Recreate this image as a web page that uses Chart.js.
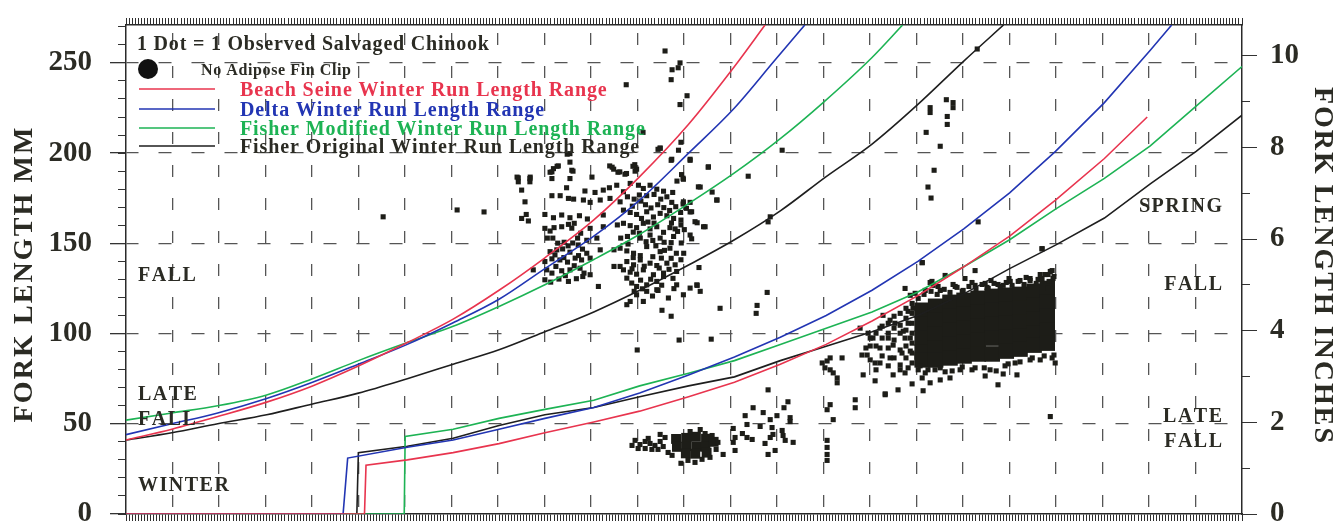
<!DOCTYPE html>
<html>
<head>
<meta charset="utf-8">
<title>Salvaged Chinook fork length</title>
<script src="https://cdn.jsdelivr.net/npm/chart.js@4.4.1/dist/chart.umd.min.js"></script>
<style>
  html, body { margin: 0; padding: 0; background: #fff; }
  canvas { display: block; }
</style>
</head>
<body>
<canvas id="lengthChart" width="1338" height="525"></canvas>
<script>
// x = day of the season (0..365), y = fork length in mm

const yTopMm = 271;
const mmPerInch = 25.4;

const curveNames = [
  "Beach Seine Winter Run Length Range",
  "Delta Winter Run Length Range",
  "Fisher Modified Winter Run Length Range",
  "Fisher Original Winter Run Length Range",
];
const curveColors = ["#e8344e", "#2235b3", "#1db354", "#1e1e1e"];

// upper limits of the winter run band
const beachUpperDays = [0, 15, 30, 46, 61, 76, 92, 107, 122, 137, 153, 168, 184, 199, 209];
const beachUpperMm = [41, 47, 54, 62, 71, 82, 95, 108, 124, 142, 163, 187, 216, 248, 271];
const deltaUpperDays = [0, 15, 30, 46, 61, 76, 92, 107, 122, 137, 153, 168, 184, 199, 212, 222];
const deltaUpperMm = [44, 50, 56, 64, 73, 83, 94, 106, 119, 136, 154, 174, 200, 225, 251, 271];
const modUpperDays = [0, 15, 30, 46, 61, 76, 92, 107, 122, 137, 153, 168, 184, 199, 214, 228, 244, 254];
const modUpperMm = [52, 56, 60, 66, 75, 85, 95, 104, 115, 127, 141, 155, 172, 189, 208, 228, 253, 271];
const origUpperDays = [0, 15, 30, 46, 61, 76, 92, 107, 122, 137, 153, 168, 184, 199, 214, 229, 244, 259, 274, 287];
const origUpperMm = [41, 45, 50, 55, 61, 67, 75, 83, 91, 101, 112, 124, 138, 152, 168, 187, 205, 227, 251, 271];

// lower limits (zero until the run starts)
const beachLowerDays = [0, 78, 78.5, 92, 107, 122, 137, 153, 168, 184, 199, 214, 229, 244, 259, 274, 289, 304, 320, 334];
const beachLowerMm = [0, 0, 27, 30, 34, 39, 45, 51, 57, 65, 73, 83, 94, 107, 121, 137, 154, 174, 197, 220];
const deltaLowerDays = [0, 71, 72.5, 92, 107, 122, 137, 153, 168, 184, 199, 214, 229, 244, 259, 274, 289, 304, 320, 335, 342];
const deltaLowerMm = [0, 0, 31, 37, 41, 47, 53, 59, 67, 77, 87, 98, 110, 124, 140, 158, 178, 201, 228, 257, 271];
const modLowerDays = [0, 91, 91.3, 107, 122, 137, 153, 168, 184, 199, 214, 229, 244, 259, 274, 289, 304, 320, 335, 350, 365];
const modLowerMm = [0, 0, 43, 47, 53, 58, 63, 71, 78, 85, 94, 103, 112, 123, 137, 152, 169, 186, 204, 226, 248];
const origLowerDays = [0, 75.5, 76, 92, 107, 122, 137, 153, 168, 184, 199, 214, 229, 244, 259, 274, 289, 304, 320, 335, 350, 365];
const origLowerMm = [0, 0, 34, 37.5, 42, 49, 55, 59, 65, 71, 76, 85, 93, 101, 110, 122, 136, 149, 164, 183, 201, 221];

// observed salvaged fish [day, mm]
const upperGroup = [
  [145.2,199.7],[174.7,202.8],[180.7,201.6],[184.5,196.6],[178.5,196.6],[190.5,192.4],[139.8,191.4],[141.4,192.9],
  [139.3,189.6],[145.8,190.5],[145.2,185.9],[139.3,185.9],[128.3,186.3],[128.3,184.1],[132.1,185.9],[132.1,184.1],
  [158.2,192.9],[159.5,191.1],[161.5,189.6],[163.7,188.7],[166.4,193.6],[167,191.1],[181.7,188.1],[182.3,185.5],
  [187.2,181.3],[129.4,179.5],[144.1,180.8],[150.1,179],[153.4,178.2],[156.1,179.5],[158.1,180.8],[160.5,182.2],
  [162.7,178.6],[164.9,183.2],[167.6,182.2],[169.2,180.4],[171.4,182.2],[173.6,180],[175.8,178.9],[178.8,178.2],
  [130.5,173],[139.3,176.4],[142,176.4],[144.7,174.9],[146.4,174.5],[149.6,174],[151.8,172.7],[155.1,174],
  [158.3,174.9],[161.6,173],[164,175.8],[166.2,174.5],[168.4,173.4],[170.3,176.4],[172.7,177.1],[174.9,174.5],
  [176.9,175.8],[178.5,172.7],[182.3,173],[184.5,172.7],[193.2,174],[129.4,163.8],[130.9,166],[131.6,162.4],
  [137,166],[139.8,164.2],[142.5,165.7],[145.2,164.2],[148.3,165.3],[150.9,163.5],[156.1,165.7],[162.7,168.4],
  [164.9,167.1],[167,166],[170.3,167.5],[172.5,164.6],[174.7,166.6],[176.9,165.3],[179.1,163.8],[181.5,162.9],
  [185,167.5],[186.1,162],[188.9,159.2],[137,158.3],[138.7,156.8],[140,158.7],[142.5,159.2],[144.7,160.5],
  [146.6,161.1],[148.7,155.6],[151.8,158.3],[156.1,159.2],[160.7,160.2],[162.7,161.1],[164.9,159.8],[167,158.7],
  [169.2,161.1],[171.4,158],[173.6,159.2],[175.8,156.1],[177.9,158.7],[179.6,158],[181.5,160.2],[137.8,152.9],
  [139.6,152.9],[143.3,150.6],[147.7,152.9],[150.7,151.7],[154,152.9],[161.8,152.9],[164,153.8],[168.2,152.9],
  [171.4,154.6],[174.7,152.9],[176,150.6],[179.1,153.8],[184.5,154.6],[185,152.5],[138.7,145.4],[140.9,146.4],
  [145.2,145.1],[148,143.2],[150.7,144.5],[155.1,146.4],[159.6,146.4],[161.6,147.3],[163.8,145.8],[166,144.5],
  [168.2,143.2],[170.3,148.2],[174.7,145.4],[177.9,147.3],[180,144.5],[182.4,144.5],[137,139.9],[139.3,141.4],
  [141.9,140.8],[144.4,139.6],[146.9,141.8],[149,140.8],[151.8,141.8],[159.6,137.2],[161.6,137.2],[163.8,139.9],
  [166,138.1],[168.2,140.8],[171.4,139],[173.6,137.7],[176.9,139],[179.6,138.1],[133.2,135.3],[137.6,135.3],
  [139.3,133.5],[142.5,134.8],[145.2,135.3],[148.5,136.2],[149.8,133.5],[151.8,132.6],[162.7,135.3],[164.9,134],
  [167,132.9],[169.2,135.3],[172.5,132.6],[175.8,133.5],[180.1,134.4],[137,129.8],[138.9,128.5],[144.7,128.9],
  [149.4,131.6],[154.5,126.1],[163.8,130.7],[165.4,128],[167,126.1],[170.3,127],[173.6,128.9],[175.8,131.6],
  [180.1,127],[186.7,127],[167,121.5],[164.9,117.8],[170.3,123.4],[173.6,124.3],[177.4,119.7],[182.3,121.5],
  [187.8,123.4],[184.5,125.2],[163.8,116],[169.2,117.8],
  [176.3,256.6],[178.6,246.2],[180.6,247.3],[181.2,250],[178.3,240.7],[183.5,231.8],[181.2,226.9],[163.6,237.9],
  [169.1,211.5],[181.5,206],[174.7,202.7],[178.3,196],[184.5,196],[190.4,192.2],[182.2,186.1],[180.2,184.5],
  [187.8,181.2],[191.7,178.4],[193.3,174],[182.2,171.8],[184.5,167.4],[186.8,161.4],[189.4,159.2],[203.5,187.2],
  [214.6,201.6],[210.7,164.7],[210,161.9],[187.4,136.6],[186.8,126.7],[209.7,122.8],[194.3,114],[206.4,115.6],
  [206.1,111.2],[178.3,109.6],[175.3,112.9],[174,123.9],[138.7,189.4],[141,192.7],[144.3,199.4],[145.2,195],
  [146.2,190],[159,192.2],[160.9,189.4],[163.2,188.3],[165.8,192.7],[166.5,190],[152.4,186.7],[127.9,186.7],
  [132.2,186.7],[174,202.1],[84.1,164.7],[108.3,168.5],[117.1,167.4],[167.2,90.9],[180.9,96.4],[191.4,96.9],
  [141.2,150.1],[142.8,146.9],[144.6,148.6],[146.1,150.2],[140.3,143.6],[143.2,142.1],[146.6,137.6],[140.6,137.2],
  [143.7,132.1],[147.3,130.4],[141.6,130.2],[145.8,158.4],[147.9,149.1],[149.3,146.8],[167.9,176.8],[169.9,171.4],
  [171.7,169.6],[173.9,171.4],[175.9,169.8],[177.8,168.2],[179.8,170.3],[181.4,167.1],[183.3,169.4],[165.6,170.6],
  [168.6,163.8],[170.7,161.8],[172.7,161.2],[178.4,161.3],[180.4,156.6],[182.6,157.6],[165.9,156.2],[167.9,155.6],
  [170.1,150.9],[172.3,151.6],[173.3,148.6],[176.1,146.1],[178.3,150.4],[181.6,150.2],[164.2,149.6],[165.9,142.1],
  [169.5,137.3],[172.3,142.6],[175.1,141.8],[178.3,141.7],[181.5,140.9],[165.5,135.9],[168.3,129.6],[171.6,130.1],
  [174.4,136.3],[177.6,135.6],[178.9,130.6],[168.9,124.8],[172.2,120.8],[175.2,126.8],[179.2,124.9],[166.2,123.4],
];
const scatteredGroup = [
  [278.4,257.7],[263,225.2],[263,222.5],[268.3,229.6],[270.5,228],[270.5,225.2],[268.6,220.3],[268.6,215.9],
  [261.7,211.5],[266.3,203.8],[264.3,190.5],[262.3,181.2],[263.3,175.1],[278.7,161.9],[260.4,139.3],[299.6,147],
  [238.5,63.3],[238.5,58.9],[248.3,66.6],[302.3,54],
  [227.7,83.7],[229.3,84.8],[230.3,86.5],[228.6,81],[230.3,79.9],[231.3,78.2],[232.6,75.4],[232.6,72.7],
  [234.2,86.5],[230.3,60.6],[229.3,57.8],[231.3,52.3],[229.3,40.8],[229.3,36.9],[229.3,33],[229.3,29.7],
  [210,68.8],[216.5,62.2],[215.2,58.9],[205.1,58.9],[208.4,56.2],[202.5,54.5],[210.7,52.3],[212.9,54.5],
  [217.2,53.4],[217.2,51.2],[203.1,49.6],[207.4,48.5],[211.3,47.9],[198.6,47.4],[201.6,44.6],[203.1,42.4],
  [204.8,41.3],[199.2,42.4],[198.6,39.7],[211.6,44.1],[210.7,42.4],[214.6,46.3],[214.9,43.5],[215.6,40.8],
  [209,39.1],[218.2,39.7],[199.2,35.2],[195.3,33],[212.3,35.2],[210,33],
];
const smallFishGroup = [
  [165.5,38],[166.5,40.8],[168.1,38.5],[169.8,40.2],[171.4,39.1],[173,38],[174.7,40.2],[167.5,36.3],
  [169.8,36.3],[172,35.8],[174,35.8],[170.8,41.9],[175.7,37.4],[176.3,42.4],[177.3,34.1],[193.6,39.7],
  [193,35.8],[184.5,45.7],[187.8,46.8],[189.4,44.6],[181.5,28.1],[183.8,29.7],[186.1,28.6],[191,31.4],
  [178.6,32.5],[188.4,30.3],[191.7,43.5],[174.7,44.1],
];
const smallFishCore = [
  [179.9,41.6],[180.2,37.2],[183.2,42.2],[183.4,37.6],[183.1,33.6],[186.4,42.8],[186.6,37.4],[186.2,33.4],
  [189.7,41.7],[189.5,37.3],[189.9,34],[192.2,40],
];
const springFallGroup = [
  [258.1,122.3],[261.4,123.9],[266.3,123.9],[271.2,126.1],[273.5,123.4],[277.7,126.7],[281,127.8],[285.2,127.2],
  [289.2,128.9],[292.4,129.4],[295.7,130.5],[298.3,130],[300.6,132.7],[302.3,134.4],[301.6,125],[260.4,139.3],
  [274.4,130.5],[277.7,134.9],[263,128.3],[265.6,126.1],[267.9,132.2],[281.6,125.6],[299.6,147],[301.6,132.7],
  [303.2,130.5],[254.8,125],[256.5,121.2],[247.6,110.1],[249.9,107.4],[253.2,104.6],[255.8,112.3],[263.6,128.9],
  [286.9,126.7],[257.4,114],[264,126.7],
  [259.1,79.9],[261.4,78.2],[264.6,79.9],[267.9,78.8],[272.8,79.9],[277.7,81],[282.6,79.9],[287.5,82.1],
  [290.8,83.7],[295.7,85.4],[299,85.4],[302.9,86.5],[260.4,75.4],[260.7,68.3],[263,72.7],[285.2,71.6],
  [291.4,77.1],[303.9,83.7],[266.3,74.3],[257.1,72.1],
  [244.3,97.5],[246.6,92],[242.4,88.1],[245,83.7],[249.3,97.5],[250.9,93.6],[254.2,101.3],[254.8,97.5],
  [253.8,89.2],[249.9,86.5],[253.2,82.6],[256.5,90.3],[250.9,77.1],[248.3,66.1],[245,73.8],[241.1,77.1],
  [240.7,88.1],[242.7,100.2],[246.6,103],[251.5,105.7],[255.8,105.7],[256.5,97.5],[255.8,81],[252.5,68.8],
  [254.8,78.2],[246.6,83.7],[243.4,93.1],[240.1,103],
  [259.1,119.5],[261,121.7],[263.3,123.4],[265.3,121.7],[267.6,124.5],[269.5,122.8],[271.8,125.6],[273.8,123.9],
  [275.7,126.1],[278,124.5],[280,127.2],[282,125],[283.9,127.8],[285.9,126.1],[287.9,128.3],[289.8,126.7],
  [291.8,128.9],[293.7,127.2],[295.7,129.4],[297.7,127.8],[299.6,130.5],[301.9,128.9],[303.5,131.6],[302.9,134.9],
  [299,132.7],[294.4,131.1],[288.8,130.5],[282.9,129.4],[276.7,128.3],[270.5,127.2],
  [257.1,116.7],[257.1,111.2],[257.1,105.7],[257.1,100.2],[257.1,94.7],[257.1,89.2],[257.1,83.7],[255.1,114],
  [255.1,108.5],[255.1,101.9],[255.1,93.1],[255.1,86.5],[253.2,111.2],[253.2,100.2],[253.2,90.9],[253.2,79.9],
  [251.2,109.6],[251.2,103],[251.2,96.4],[251.2,86.5],[249.3,105.7],[249.3,100.2],[249.3,92],[249.3,82.1],
  [247.3,104.1],[247.3,97.5],[247.3,87.6],[245.3,100.2],[245.3,93.1],[245.3,79.9],[243.4,97.5],[243.4,85.4],
  [242,92],
  [259.7,82.1],[262.3,79.9],[266.3,81],[270.2,79.3],[273.5,81.5],[276.7,79.9],[280.7,81],[284.6,79.3],
  [288.5,83.2],[292.4,84.3],[296.4,86.5],[300.3,87.6],[303.5,88.1],[281,76.5],[286.9,77.6],[269.5,75.4],
];
const springFallCore = [
  [260.4,112.9],[260.4,105.2],[260.4,97.5],[260.4,89.8],[260.4,85.4],
  [264.8,115.1],[264.8,107.4],[264.8,99.7],[264.8,92],[264.8,85.4],
  [269.5,117.3],[269.5,109.6],[269.5,101.9],[269.5,94.2],[269.5,86.5],
  [274.1,118.4],[274.1,110.7],[274.1,103],[274.1,95.3],[274.1,87.6],
  [278.7,119.5],[278.7,111.8],[278.7,104.1],[278.7,96.4],[278.7,88.7],
  [283.3,120.6],[283.3,112.9],[283.3,105.2],[283.3,97.5],[283.3,88.7],
  [287.9,121.2],[287.9,113.4],[287.9,105.7],[287.9,98],[287.9,90.3],
  [292.4,121.7],[292.4,114],[292.4,106.3],[292.4,98.6],[292.4,91.4],
  [297,123.4],[297,115.6],[297,107.9],[297,100.2],[297,93.6],
  [301.3,125],[301.3,117.3],[301.3,109.6],[301.3,101.9],[301.3,94.7],
];

const regionLabels = [
  { text: "FALL", side: "left", mm: 133 },
  { text: "LATE", side: "left", mm: 67 },
  { text: "FALL", side: "left", mm: 53 },
  { text: "WINTER", side: "left", mm: 16.5 },
  { text: "SPRING", side: "right", mm: 171 },
  { text: "FALL", side: "right", mm: 128 },
  { text: "LATE", side: "right", mm: 55 },
  { text: "FALL", side: "right", mm: 41 },
];

const ink = "#2b2b24";
const gridInk = "#555";
const serif = '"Liberation Serif", "DejaVu Serif", serif';

const toPoints = (days, mm) => days.map((d, i) => ({ x: d, y: mm[i] }));
const pairs = (list) => list.map(([x, y]) => ({ x, y }));

const curves = [
  [beachLowerDays, beachLowerMm, beachUpperDays, beachUpperMm],
  [deltaLowerDays, deltaLowerMm, deltaUpperDays, deltaUpperMm],
  [modLowerDays, modLowerMm, modUpperDays, modUpperMm],
  [origLowerDays, origLowerMm, origUpperDays, origUpperMm],
];

const datasets = [];
curves.forEach((c, i) => {
  // lower limit: straight pieces keep the jump sharp; upper limit: smoothed
  [[c[0], c[1], "default"], [c[2], c[3], "monotone"]].forEach(([d, m, mode]) => {
    datasets.push({
      label: curveNames[i],
      data: toPoints(d, m),
      showLine: true,
      borderColor: curveColors[i],
      borderWidth: 1.6,
      pointRadius: 0,
      tension: 0,
      cubicInterpolationMode: mode,
    });
  });
});

const dotStyle = (data, radius) => ({
  label: "Observed Salvaged Chinook",
  data: data,
  pointStyle: "rect",
  pointRadius: radius,
  pointBackgroundColor: "#1d1d18",
  pointBorderWidth: 0,
});
datasets.push(dotStyle(pairs(upperGroup), 3.6));
datasets.push(dotStyle(pairs(scatteredGroup), 3.6));
datasets.push(dotStyle(pairs(smallFishGroup), 3.6));
datasets.push(dotStyle(pairs(smallFishCore), 7));
datasets.push(dotStyle(pairs(springFallGroup), 3.6));
datasets.push(dotStyle(pairs(springFallCore), 11));

// draws letter-spaced text
function spaced(ctx, str, x, y, gap, align) {
  const chars = [...str];
  const widths = chars.map((ch) => ctx.measureText(ch).width);
  const total = widths.reduce((a, b) => a + b, 0) + gap * (chars.length - 1);
  let cx = align === "center" ? x - total / 2 : align === "right" ? x - total : x;
  ctx.textAlign = "left";
  chars.forEach((ch, i) => {
    ctx.fillText(ch, cx, y);
    cx += widths[i] + gap;
  });
}

const notes = {
  id: "notes",
  afterDraw(chart) {
    const { ctx, chartArea, scales } = chart;
    const L = chartArea.left;
    ctx.save();
    ctx.fillStyle = ink;
    ctx.textBaseline = "alphabetic";

    ctx.font = `bold 20px ${serif}`;
    spaced(ctx, "1 Dot = 1 Observed Salvaged Chinook", L + 11, 50, 0.8);

    ctx.beginPath();
    ctx.arc(L + 22, 69, 10, 0, Math.PI * 2);
    ctx.fillStyle = "#111";
    ctx.fill();
    ctx.fillStyle = ink;
    ctx.font = `bold 16px ${serif}`;
    spaced(ctx, "No Adipose Fin Clip", L + 75, 75, 0.6);

    const rowY = [89, 109, 128, 146];
    curveNames.forEach((name, i) => {
      ctx.strokeStyle = curveColors[i];
      ctx.lineWidth = 1.6;
      ctx.beginPath();
      ctx.moveTo(L + 13, rowY[i]);
      ctx.lineTo(L + 89, rowY[i]);
      ctx.stroke();
      ctx.fillStyle = i === 3 ? ink : curveColors[i];
      ctx.font = `bold 20px ${serif}`;
      spaced(ctx, name, L + 114, rowY[i] + 7, 0.9);
    });

    ctx.fillStyle = ink;
    ctx.font = `bold 20px ${serif}`;
    regionLabels.forEach((r) => {
      const y = scales.y.getPixelForValue(r.mm) + 7;
      if (r.side === "left") spaced(ctx, r.text, L + 12, y, 1.5, "left");
      else spaced(ctx, r.text, chartArea.right - 20, y, 1.5, "right");
    });

    ctx.font = `bold 28px ${serif}`;
    ctx.textBaseline = "middle";
    ctx.save();
    ctx.translate(25, 275);
    ctx.rotate(-Math.PI / 2);
    spaced(ctx, "FORK LENGTH MM", 0, 0, 2.1, "center");
    ctx.restore();
    ctx.save();
    ctx.translate(1322, 265);
    ctx.rotate(Math.PI / 2);
    spaced(ctx, "FORK LENGTH INCHES", 0, 0, 2, "center");
    ctx.restore();
    ctx.restore();
  },
};

const frame = { color: "#2a2a2a", width: 1.5 };
const labelFont = { family: "Liberation Serif", size: 29, weight: "bold" };
const fixWidth = (w) => (s) => { s.width = w; s.paddingTop = 0; s.paddingBottom = 0; };
const fixHeight = (h) => (s) => { s.height = h; s.paddingLeft = 0; s.paddingRight = 0; };

new Chart(document.getElementById("lengthChart"), {
  type: "scatter",
  data: { datasets: datasets },
  options: {
    responsive: false,
    animation: false,
    events: [],
    layout: { padding: 0 },
    plugins: { legend: { display: false }, tooltip: { enabled: false } },
    scales: {
      x: {
        type: "linear", position: "bottom", min: 0, max: 365, weight: 1,
        ticks: { stepSize: 1, display: false, autoSkip: false },
        grid: { drawOnChartArea: false, tickLength: 7, tickColor: "#2e2e2e", tickWidth: 1 },
        border: frame,
        afterFit: fixHeight(8),
      },
      xg: {
        type: "linear", position: "bottom", min: 0, max: 24, weight: 0,
        ticks: { stepSize: 1, display: false, autoSkip: false },
        grid: {
          drawTicks: false, lineWidth: 1.3,
          color: (c) => (c.tick.value === 0 || c.tick.value === 24 ? "transparent" : gridInk),
        },
        border: { display: false, dash: [12, 21], dashOffset: 25 },
        afterFit: fixHeight(0),
      },
      x2: {
        type: "linear", position: "top", min: 0, max: 365,
        ticks: { stepSize: 1, display: false, autoSkip: false },
        grid: { drawOnChartArea: false, tickLength: 7, tickColor: "#2e2e2e", tickWidth: 1 },
        border: frame,
        afterFit: fixHeight(25),
      },
      y: {
        type: "linear", position: "left", min: 0, max: yTopMm, weight: 1,
        ticks: { stepSize: 50, includeBounds: false, padding: 18, color: ink, font: labelFont },
        grid: {
          tickLength: 16, lineWidth: 1.3, tickColor: "#333",
          color: (c) => (c.tick.value === 0 ? "transparent" : gridInk),
        },
        border: { color: frame.color, width: frame.width, dash: [13, 20], dashOffset: 1 },
        afterFit: fixWidth(126),
      },
      ym: {
        type: "linear", position: "left", min: 0, max: yTopMm, weight: 0,
        ticks: { stepSize: 10, includeBounds: false, display: false },
        grid: { drawOnChartArea: false, tickLength: 8, tickColor: "#333" },
        border: { display: false },
        afterFit: fixWidth(0),
      },
      y2: {
        type: "linear", position: "right", min: 0, max: yTopMm / mmPerInch, weight: 1,
        ticks: { stepSize: 2, includeBounds: false, padding: 13, color: ink, font: labelFont },
        grid: { drawOnChartArea: false, tickLength: 15, tickColor: "#333" },
        border: frame,
        afterFit: fixWidth(96),
      },
      y2m: {
        type: "linear", position: "right", min: 0, max: yTopMm / mmPerInch, weight: 0,
        ticks: { stepSize: 1, includeBounds: false, display: false },
        grid: { drawOnChartArea: false, tickLength: 8, tickColor: "#333" },
        border: { display: false },
        afterFit: fixWidth(0),
      },
    },
  },
  plugins: [notes],
});
</script>
</body>
</html>
